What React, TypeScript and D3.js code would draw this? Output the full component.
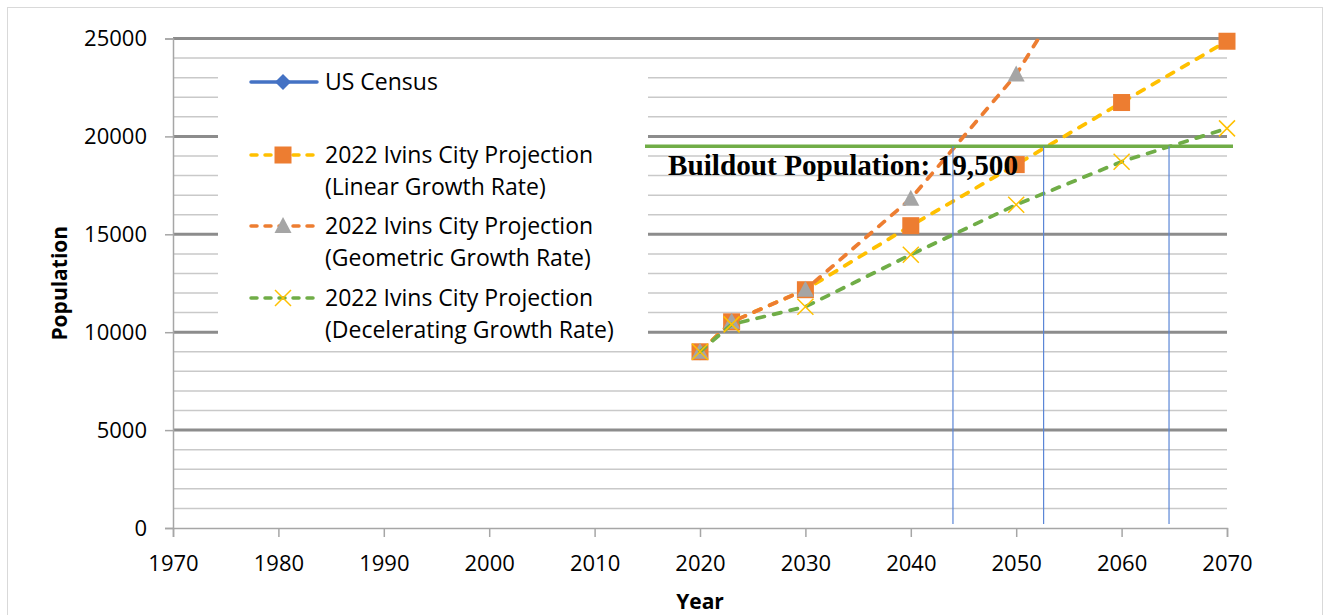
import * as d3 from 'd3';
import { useEffect, useRef } from 'react';

// Chart data
const years = [2020, 2023, 2030, 2040, 2050, 2060, 2070];
const censusYears = [2020];
const censusValues = [8978];
const linearValues = [9000, 10530, 12170, 15440, 18560, 21730, 24860];
const geometricValues = [9000, 10530, 12170, 16820, 23160, 31900, 43900];
const deceleratingValues = [9000, 10400, 11300, 13960, 16510, 18710, 20410];
const buildoutPopulation = 19500;
const buildoutYears = [2044.0, 2052.6, 2064.5];
const xTicks = [1970, 1980, 1990, 2000, 2010, 2020, 2030, 2040, 2050, 2060, 2070];
const yTicks = [0, 5000, 10000, 15000, 20000, 25000];
const minorTicks = d3.range(1000, 25000, 1000);
const legendLabels = [
  ['US Census'],
  ['2022 Ivins City Projection', '(Linear Growth Rate)'],
  ['2022 Ivins City Projection', '(Geometric Growth Rate)'],
  ['2022 Ivins City Projection', '(Decelerating Growth Rate)'],
];

const BLUE = '#4472c4';
const ORANGE = '#ed7d31';
const GRAY = '#a5a5a5';
const YELLOW = '#ffc000';
const GREEN = '#70ad47';
const FONT = "'Open Sans', sans-serif";

export default function App() {
  const svgRef = useRef<SVGSVGElement | null>(null);

  useEffect(() => {
    if (!svgRef.current) return;
    const width = 1325;
    const height = 615;
    const margin = { top: 38.5, right: 98, bottom: 87, left: 173 };

    const svg = d3.select(svgRef.current);
    svg.selectAll('*').remove();
    svg.attr('width', width).attr('height', height);

    const x = d3.scaleLinear().domain([1970, 2070]).range([margin.left, width - margin.right]);
    const y = d3.scaleLinear().domain([0, 25000]).range([height - margin.bottom, margin.top]);
    const [x0, x1] = x.range();

    // outer frame
    svg.append('rect')
      .attr('x', 7.5).attr('y', 7.5)
      .attr('width', 1315).attr('height', 640)
      .attr('fill', 'white').attr('stroke', '#d9d9d9');

    // gridlines
    svg.append('g').selectAll('line').data(minorTicks.filter(v => v % 5000 !== 0)).join('line')
      .attr('x1', x0).attr('x2', x1)
      .attr('y1', d => y(d)).attr('y2', d => y(d))
      .attr('stroke', '#c9c9c9').attr('stroke-width', 1.5);
    svg.append('g').selectAll('line').data(yTicks.filter(v => v > 0)).join('line')
      .attr('x1', x0).attr('x2', x1)
      .attr('y1', d => y(d)).attr('y2', d => y(d))
      .attr('stroke', '#8c8c8c').attr('stroke-width', 3);

    // axes
    const xAxis = svg.append('g')
      .attr('transform', `translate(0,${y(0)})`)
      .call(d3.axisBottom(x).tickValues(xTicks).tickFormat(d3.format('d')).tickSize(9).tickPadding(18));
    const yAxis = svg.append('g')
      .attr('transform', `translate(${x0},0)`)
      .call(d3.axisLeft(y).tickValues(yTicks).tickFormat(d3.format('d')).tickSize(8).tickPadding(18));
    [xAxis, yAxis].forEach(g => {
      g.select('.domain').attr('stroke', '#a6a6a6').attr('stroke-width', 1.5);
      g.selectAll('.tick line').attr('stroke', '#a6a6a6').attr('stroke-width', 1.5);
      g.selectAll('.tick text')
        .attr('fill', '#000').attr('font-family', FONT).attr('font-size', 22);
    });

    // legend box hides gridlines behind it
    svg.append('rect')
      .attr('x', 218).attr('y', 64).attr('width', 430).attr('height', 286)
      .attr('fill', 'white');

    const clipId = 'plot-clip';
    svg.append('clipPath').attr('id', clipId)
      .append('rect')
      .attr('x', x0 - 10).attr('y', y(25000))
      .attr('width', x1 - x0 + 20).attr('height', y(0) - y(25000));

    const line = d3.line<[number, number]>()
      .x(d => x(d[0]))
      .y(d => y(d[1]));

    const drawSquare = (g: any, cx: number, cy: number) =>
      g.append('rect').attr('x', cx - 8.5).attr('y', cy - 8.5).attr('width', 17).attr('height', 17)
        .attr('fill', ORANGE);
    const drawTriangle = (g: any, cx: number, cy: number) =>
      g.append('path')
        .attr('d', `M${cx},${cy - 9}L${cx + 8.5},${cy + 7}L${cx - 8.5},${cy + 7}Z`)
        .attr('fill', GRAY);
    const drawCross = (g: any, cx: number, cy: number) =>
      g.append('path')
        .attr('d', `M${cx - 8},${cy - 8}L${cx + 8},${cy + 8}M${cx + 8},${cy - 8}L${cx - 8},${cy + 8}`)
        .attr('stroke', YELLOW).attr('stroke-width', 1.5).attr('fill', 'none');
    const drawDiamond = (g: any, cx: number, cy: number) =>
      g.append('path')
        .attr('d', `M${cx},${cy - 8}L${cx + 8},${cy}L${cx},${cy + 8}L${cx - 8},${cy}Z`)
        .attr('fill', BLUE);

    const series = [
      { xs: censusYears, values: censusValues, color: BLUE, dash: null, marker: drawDiamond },
      { xs: years, values: linearValues, color: YELLOW, dash: '7.5 9.5', marker: drawSquare },
      { xs: years, values: geometricValues, color: ORANGE, dash: '7.5 9.5', marker: drawTriangle },
      { xs: years, values: deceleratingValues, color: GREEN, dash: '7.5 9.5', marker: drawCross },
    ];

    const plot = svg.append('g');
    series.forEach(s => {
      const pts = s.xs.map((yr, i) => [yr, s.values[i]] as [number, number]);
      plot.append('path')
        .datum(pts)
        .attr('clip-path', `url(#${clipId})`)
        .attr('fill', 'none')
        .attr('stroke', s.color)
        .attr('stroke-width', 3.75)
        .attr('stroke-linecap', 'round')
        .attr('stroke-dasharray', s.dash)
        .attr('d', line);
      const mg = plot.append('g');
      pts.filter(p => p[1] <= 25000).forEach(p => s.marker(mg, x(p[0]), y(p[1])));
    });

    // buildout population line and markers
    svg.append('line')
      .attr('x1', 645).attr('x2', x1 + 6)
      .attr('y1', y(buildoutPopulation)).attr('y2', y(buildoutPopulation))
      .attr('stroke', GREEN).attr('stroke-width', 3.5);
    svg.append('g').selectAll('line').data(buildoutYears).join('line')
      .attr('x1', d => x(d)).attr('x2', d => x(d))
      .attr('y1', y(buildoutPopulation)).attr('y2', y(0) - 4)
      .attr('stroke', '#5b86d6').attr('stroke-width', 1.2);
    svg.append('text')
      .attr('x', 668).attr('y', 175)
      .attr('font-family', "'Liberation Serif', 'Times New Roman', serif")
      .attr('font-weight', 'bold')
      .attr('font-size', 29)
      .attr('textLength', 350)
      .attr('lengthAdjust', 'spacingAndGlyphs')
      .text(`Buildout Population: ${d3.format(',')(buildoutPopulation)}`);

    // legend
    const legendRows = [82, 155, 226, 298];
    const legend = svg.append('g');
    series.forEach((s, i) => {
      const ly = legendRows[i];
      legend.append('line')
        .attr('x1', 251).attr('x2', 317).attr('y1', ly).attr('y2', ly)
        .attr('stroke', s.color).attr('stroke-width', 3.5)
        .attr('stroke-linecap', 'round')
        .attr('stroke-dasharray', s.dash ? '6 8' : null);
      s.marker(legend, 283, ly);
      legendLabels[i].forEach((t, j) => {
        legend.append('text')
          .attr('x', 325).attr('y', ly + j * 32)
          .attr('dy', '0.36em')
          .attr('font-family', FONT).attr('font-size', 23)
          .attr('fill', '#000')
          .text(t);
      });
    });

    // axis titles
    svg.append('text')
      .attr('transform', `translate(60,${(y(0) + y(25000)) / 2}) rotate(-90)`)
      .attr('text-anchor', 'middle').attr('dy', '0.35em')
      .attr('font-family', FONT).attr('font-weight', 'bold').attr('font-size', 21)
      .text('Population');
    svg.append('text')
      .attr('x', (x0 + x1) / 2).attr('y', 602)
      .attr('text-anchor', 'middle').attr('dy', '0.35em')
      .attr('font-family', FONT).attr('font-weight', 'bold').attr('font-size', 21)
      .text('Year');
  }, []);

  return (
    <div>
      <svg ref={svgRef} style={{ position: 'absolute', left: 0, top: 0 }}></svg>
    </div>
  );
}
